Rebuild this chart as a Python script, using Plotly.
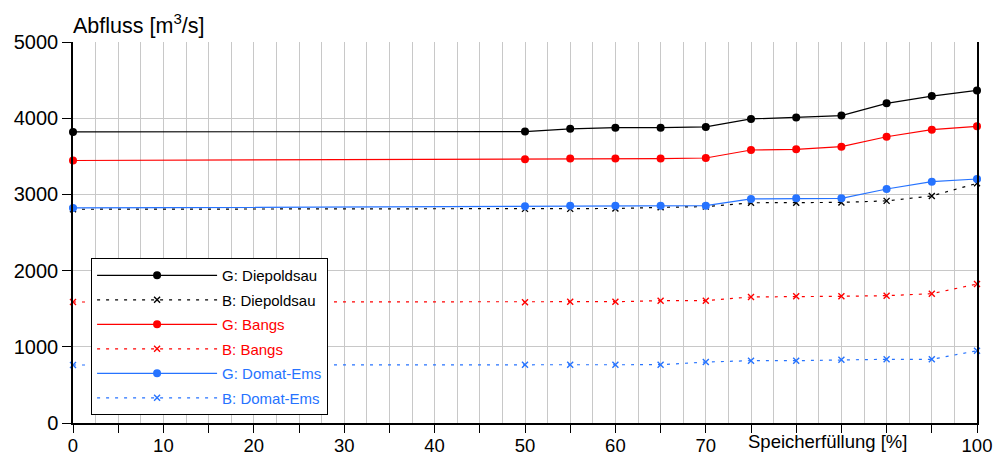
import plotly.graph_objects as go

x_fill = [0, 50, 55, 60, 65, 70, 75, 80, 85, 90, 95, 100]

g_diepoldsau = [3820, 3825, 3860, 3875, 3875, 3885, 3990, 4010, 4035, 4195, 4290, 4365]
b_diepoldsau = [2805, 2810, 2810, 2815, 2830, 2840, 2890, 2890, 2895, 2915, 2980, 3145]
g_bangs = [3445, 3460, 3470, 3470, 3470, 3478, 3583, 3592, 3626, 3757, 3849, 3894]
b_bangs = [1588, 1584, 1592, 1592, 1605, 1605, 1654, 1663, 1663, 1671, 1697, 1824]
g_domat = [2822, 2844, 2852, 2852, 2852, 2852, 2940, 2949, 2949, 3071, 3167, 3202]
b_domat = [761, 765, 765, 765, 765, 800, 818, 818, 831, 836, 836, 949]

x_tick_vals = list(range(0, 101, 5))
x_tick_labels = ["0", "", "10", "", "20", "", "30", "", "40", "", "50", "", "60", "", "70",
                 "", "", "", "", "", "100"]
y_tick_vals = [0, 1000, 2000, 3000, 4000, 5000]

BLACK = "#000000"
RED = "#ff0000"
BLUE = "#2673ff"

series = [
    ("G: Diepoldsau", g_diepoldsau, BLACK, "solid"),
    ("B: Diepoldsau", b_diepoldsau, BLACK, "dot"),
    ("G: Bangs", g_bangs, RED, "solid"),
    ("B: Bangs", b_bangs, RED, "dot"),
    ("G: Domat-Ems", g_domat, BLUE, "solid"),
    ("B: Domat-Ems", b_domat, BLUE, "dot"),
]

fig = go.Figure()
for i, (name, vals, col, style) in enumerate(series):
    if style == "solid":
        line = dict(color=col, width=1.2)
        marker = dict(symbol="circle", size=8, color=col)
    else:
        line = dict(color=col, width=1.2, dash="3px,6px")
        marker = dict(symbol="x-thin", size=6, color=col, line=dict(color=col, width=1.4))
    fig.add_trace(go.Scatter(
        x=x_fill, y=vals, mode="lines+markers", name=f'<span style="color:{col}">{name}</span>',
        line=line, marker=marker, cliponaxis=False, legendgroup=f"g{i}",
    ))

fig.update_layout(
    width=996, height=455,
    margin=dict(l=73, r=19, t=42, b=32, autoexpand=False),
    paper_bgcolor="white", plot_bgcolor="white",
    font=dict(family="Liberation Sans, Arial, sans-serif", size=18, color="black"),
    showlegend=True,
    legend=dict(
        x=0.02, y=0.433, xanchor="left", yanchor="top",
        bgcolor="white", bordercolor="black", borderwidth=1,
        font=dict(size=15), itemwidth=120, tracegroupgap=2,
    ),
    xaxis=dict(
        range=[0, 100], tickmode="array", tickvals=x_tick_vals, ticktext=x_tick_labels,
        ticks="outside", ticklen=8, tickcolor="black", tickwidth=1,
        ticklabelstandoff=-3,
        showline=True, linecolor="black", linewidth=1.5, automargin=False,
        showgrid=True, gridcolor="#c8c8c8", gridwidth=1.3,
        minor=dict(dtick=2.5, showgrid=True, gridcolor="#c8c8c8", gridwidth=1.3, ticks=""),
        zeroline=False, tickfont=dict(size=18.5),
    ),
    yaxis=dict(
        range=[0, 5000], tickmode="array", tickvals=y_tick_vals,
        ticks="outside", ticklen=9, tickcolor="black", tickwidth=1,
        showline=True, linecolor="black", linewidth=1.5, mirror=True, automargin=False,
        showgrid=True, gridcolor="#c8c8c8", gridwidth=1.3,
        zeroline=False, tickfont=dict(size=20),
    ),
    annotations=[
        dict(text="Abfluss [m<sup>3</sup>/s]", xref="paper", yref="paper", x=0, y=1,
             xanchor="left", yanchor="bottom", yshift=2, xshift=-2, showarrow=False,
             font=dict(size=21.5)),
        dict(text="Speicherfüllung [%]", xref="x", yref="paper", x=83.5, y=0,
             xanchor="center", yanchor="top", yshift=-6, showarrow=False, font=dict(size=18.5)),
    ],
)

fig.write_html("out.html", config={"displayModeBar": False},
               post_script="document.body.style.margin='0';")
